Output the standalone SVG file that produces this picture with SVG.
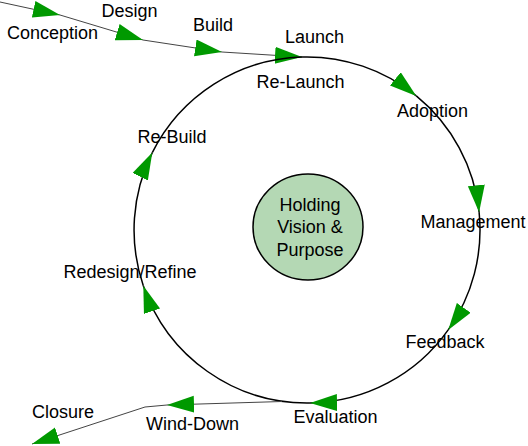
<svg xmlns="http://www.w3.org/2000/svg" width="528" height="446" viewBox="0 0 528 446">
<style>
text{font-family:"Liberation Sans",Arial,sans-serif;font-size:18px;fill:#000;text-anchor:middle}
.ring{fill:none;stroke:#000;stroke-width:1.5}
.line{fill:none;stroke:#444;stroke-width:1}
</style>
<defs>
<marker id="arr" markerUnits="userSpaceOnUse" markerWidth="28" markerHeight="18" refX="27" refY="8.5" orient="auto" viewBox="0 0 28 18">
<path d="M0,0 L27,8.5 L0,17 z" fill="#009900"/>
</marker>
</defs>
<rect width="528" height="446" fill="#fff"/>
<g id="connectors">
<path class="line" d="M0,2 L60,15" marker-end="url(#arr)"/>
<path class="line" d="M60,15 L143,40" marker-end="url(#arr)"/>
<path class="line" d="M143,40 L222,52" marker-end="url(#arr)"/>
<path class="line" d="M222,52 L302,57" marker-end="url(#arr)"/>
<path class="ring" d="M302,57 A173,173 0 0 1 416.3,95.9" marker-end="url(#arr)"/>
<path class="ring" d="M416.3,95.9 A173,173 0 0 1 479.1,212.2" marker-end="url(#arr)"/>
<path class="ring" d="M479.1,212.2 A173,173 0 0 1 448.2,329.9" marker-end="url(#arr)"/>
<path class="ring" d="M448.2,329.9 A173,173 0 0 1 310,403" marker-end="url(#arr)"/>
<path class="ring" d="M310,403 A173,173 0 0 1 143.3,285.7" marker-end="url(#arr)"/>
<path class="ring" d="M143.3,285.7 A173,173 0 0 1 152.3,152.6" marker-end="url(#arr)"/>
<path class="ring" d="M152.3,152.6 A173,173 0 0 1 302,57"/>
<path class="line" d="M282,401.5 L167,405" marker-end="url(#arr)"/>
<path class="line" d="M167,405 L145,407 L32,444" marker-end="url(#arr)"/>
</g>
<g id="hub">
<ellipse cx="308" cy="227" rx="55" ry="53" fill="#b4d8b4" stroke="#000" stroke-width="1.5"/>
<text x="310" y="211">Holding</text>
<text x="310" y="233">Vision &amp;</text>
<text x="310" y="256">Purpose</text>
</g>
<g id="conception"><text x="52.5" y="39">Conception</text></g>
<g id="design"><text x="129.5" y="17">Design</text></g>
<g id="build"><text x="213" y="31">Build</text></g>
<g id="launch"><text x="314.5" y="43">Launch</text></g>
<g id="relaunch"><text x="300.5" y="88">Re-Launch</text></g>
<g id="adoption"><text x="432.5" y="117">Adoption</text></g>
<g id="management"><text x="473" y="228">Management</text></g>
<g id="feedback"><text x="445" y="348">Feedback</text></g>
<g id="evaluation"><text x="335.5" y="423">Evaluation</text></g>
<g id="winddown"><text x="192.5" y="430">Wind-Down</text></g>
<g id="closure"><text x="63" y="418">Closure</text></g>
<g id="redesign"><text x="130" y="278">Redesign/Refine</text></g>
<g id="rebuild"><text x="172" y="143">Re-Build</text></g>
</svg>
